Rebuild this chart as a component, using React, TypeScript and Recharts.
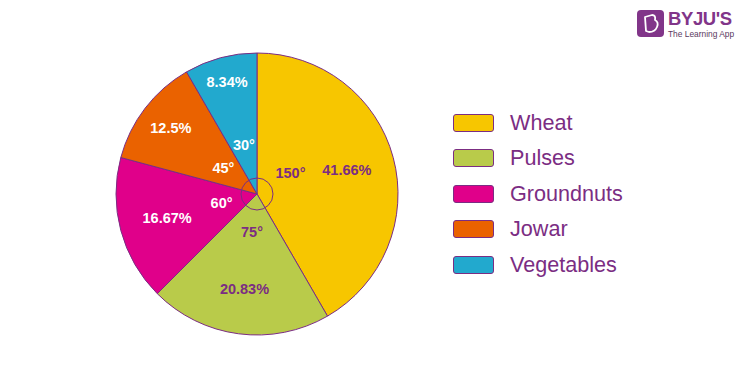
import { Legend, Pie, PieChart } from "recharts";

const crops = ["Wheat", "Pulses", "Groundnuts", "Jowar", "Vegetables"];
const degrees = [150, 75, 60, 45, 30];
const percents = ["41.66%", "20.83%", "16.67%", "12.5%", "8.34%"];
const colors = ["#F7C600", "#B9CB4A", "#E0008A", "#EA6200", "#22A9CE"];

// label placement, as fractions of the pie radius
const pctRadius = [0.66, 0.68, 0.66, 0.77, 0.82];
const degRadius = [0.28, 0.27, 0.26, 0.3, 0.36];
const degShift = [17, 0, 0, 0, 0];

const PURPLE = "#7B2D83";
const RAD = Math.PI / 180;

const data = crops.map((name, i) => ({
  name,
  value: degrees[i],
  fill: colors[i],
}));

function SliceLabel(props: any) {
  const { cx, cy, midAngle, outerRadius, index } = props;
  const color = index < 2 ? PURPLE : "#ffffff";
  const pr = outerRadius * pctRadius[index];
  const dr = outerRadius * degRadius[index];
  const da = midAngle + degShift[index];
  const px = cx + pr * Math.cos(-midAngle * RAD);
  const py = cy + pr * Math.sin(-midAngle * RAD);
  const dx = cx + dr * Math.cos(-da * RAD);
  const dy = cy + dr * Math.sin(-da * RAD);
  return (
    <g>
      {index === 0 && (
        <circle cx={cx} cy={cy} r={16} fill="none" stroke={PURPLE} strokeWidth={1} />
      )}
      <text
        x={px}
        y={py}
        fill={color}
        textAnchor="middle"
        dominantBaseline="central"
        fontFamily="Liberation Sans, Arial, sans-serif"
        fontWeight="bold"
        fontSize={14.5}
      >
        {percents[index]}
      </text>
      <text
        x={dx}
        y={dy}
        fill={color}
        textAnchor="middle"
        dominantBaseline="central"
        fontFamily="Liberation Sans, Arial, sans-serif"
        fontWeight="bold"
        fontSize={14.5}
      >
        {degrees[index]}°
      </text>
    </g>
  );
}

function CropLegend() {
  return (
    <div style={{ fontFamily: "Liberation Sans, Arial, sans-serif" }}>
      {crops.map((c, i) => (
        <div
          key={c}
          style={{ display: "flex", alignItems: "center", height: 35.5 }}
        >
          <div
            style={{
              width: 39,
              height: 16,
              background: colors[i],
              border: `1px solid ${PURPLE}`,
              borderRadius: 3,
              marginRight: 16,
            }}
          />
          <span style={{ color: PURPLE, fontSize: 21.6 }}>{c}</span>
        </div>
      ))}
    </div>
  );
}

function Logo() {
  return (
    <div
      style={{
        position: "absolute",
        left: 637,
        top: 10,
        display: "flex",
        alignItems: "flex-start",
        fontFamily: "Liberation Sans, Arial, sans-serif",
      }}
    >
      <svg width={27} height={27}>
        <rect x={0} y={0} width={27} height={27} rx={4} fill="#813589" />
        <path
          d="M8 7 L15 5 Q19 5 18 10 Q22 12 20 17 Q18 22 12 22 L9 21 Z"
          fill="none"
          stroke="#ffffff"
          strokeWidth={1.8}
          strokeLinejoin="round"
        />
      </svg>
      <div style={{ marginLeft: 4, color: "#813589" }}>
        <div style={{ fontSize: 18.5, fontWeight: "bold", lineHeight: "18px", letterSpacing: -0.4 }}>
          BYJU'S
        </div>
        <div style={{ fontSize: 8.4, lineHeight: "10px", marginTop: 1, color: "#5a3a60" }}>
          The Learning App
        </div>
      </div>
    </div>
  );
}

export default function App() {
  return (
    <div
      style={{
        position: "absolute",
        left: 0,
        top: 0,
        width: 750,
        height: 380,
        background: "#ffffff",
      }}
    >
      <PieChart width={750} height={380} margin={{ top: 0, right: 0, bottom: 0, left: 0 }}>
        <Pie
          data={data}
          dataKey="value"
          nameKey="name"
          cx={257}
          cy={194}
          outerRadius={141}
          startAngle={90}
          endAngle={-270}
          stroke={PURPLE}
          strokeWidth={1}
          label={SliceLabel}
          labelLine={false}
          isAnimationActive={false}
        />
        <Legend
          content={<CropLegend />}
          wrapperStyle={{ position: "absolute", left: 453, top: 105, width: 220 }}
        />
      </PieChart>
      <Logo />
    </div>
  );
}
